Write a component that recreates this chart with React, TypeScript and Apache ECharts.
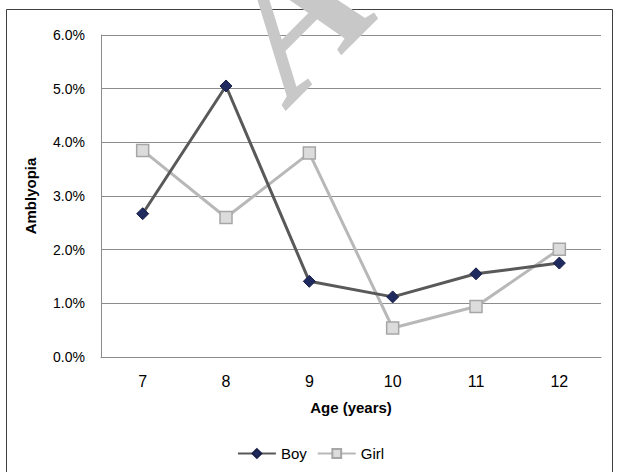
import React, { useEffect, useRef } from "react";
import * as echarts from "echarts";

const ages = ["7", "8", "9", "10", "11", "12"];
const boy = [2.67, 5.05, 1.41, 1.12, 1.55, 1.75];
const girl = [3.85, 2.6, 3.8, 0.54, 0.94, 2.01];
const yTicks = { min: 0, max: 6, step: 1 };

export default function App() {
  const ref = useRef<HTMLDivElement>(null);

  useEffect(() => {
    if (!ref.current) return;
    document.body.style.margin = "0";
    const chart = echarts.init(ref.current, undefined, { renderer: "svg" });
    const font = "'Liberation Sans', Arial, sans-serif";
    chart.setOption({
      animation: false,
      backgroundColor: "#ffffff",
      grid: { left: 101, right: 20, top: 35, bottom: 115, containLabel: false },
      graphic: [
        {
          type: "rect",
          shape: { x: 6.5, y: 9.5, width: 606, height: 490 },
          style: { fill: "none", stroke: "#404040", lineWidth: 1 },
          silent: true,
          z: 0,
        },
        {
          type: "text",
          x: 246,
          y: 57,
          rotation: Math.PI / 4,
          style: {
            text: "Accepted Manuscript",
            font: "italic bold 195px 'Liberation Serif', 'DejaVu Serif', serif",
            fill: "#c8c8c8",
            textAlign: "left",
            textVerticalAlign: "middle",
          },
          silent: true,
          z: 100,
        },
      ],
      legend: {
        bottom: 6,
        left: "center",
        itemWidth: 38,
        itemHeight: 11,
        itemGap: 10,
        textStyle: { fontFamily: font, fontSize: 15, color: "#000" },
        data: ["Boy", "Girl"],
      },
      xAxis: {
        type: "category",
        data: ages,
        boundaryGap: true,
        name: "Age (years)",
        nameLocation: "middle",
        nameGap: 43,
        nameTextStyle: { fontFamily: font, fontSize: 15, fontWeight: "bold", color: "#000" },
        axisLine: { show: true, lineStyle: { color: "#8c8c8c", width: 1 } },
        axisTick: { show: false },
        axisLabel: { fontFamily: font, fontSize: 16, color: "#000", margin: 16 },
        splitLine: { show: false },
      },
      yAxis: {
        type: "value",
        min: yTicks.min,
        max: yTicks.max,
        interval: yTicks.step,
        name: "Amblyopia",
        nameLocation: "middle",
        nameGap: 63,
        nameTextStyle: { fontFamily: font, fontSize: 15, fontWeight: "bold", color: "#000" },
        axisLine: { show: true, lineStyle: { color: "#8c8c8c", width: 1 } },
        axisTick: { show: false },
        axisLabel: {
          fontFamily: font,
          fontSize: 14,
          color: "#000",
          margin: 16,
          formatter: (v: number) => v.toFixed(1) + "%",
        },
        splitLine: { show: true, lineStyle: { color: "#8c8c8c", width: 1 } },
      },
      series: [
        {
          name: "Boy",
          type: "line",
          data: boy,
          symbol: "diamond",
          symbolSize: 12,
          lineStyle: { color: "#595959", width: 3 },
          itemStyle: { color: "#1f2a5e", borderColor: "#19204a", borderWidth: 1 },
          z: 3,
        },
        {
          name: "Girl",
          type: "line",
          data: girl,
          symbol: "rect",
          symbolSize: 12,
          lineStyle: { color: "#b8b8b8", width: 3 },
          itemStyle: { color: "#dcdcdc", borderColor: "#a6a6a6", borderWidth: 1.5 },
          z: 2,
        },
      ],
    });
    return () => chart.dispose();
  }, []);

  return <div ref={ref} style={{ width: 621, height: 472 }} />;
}
